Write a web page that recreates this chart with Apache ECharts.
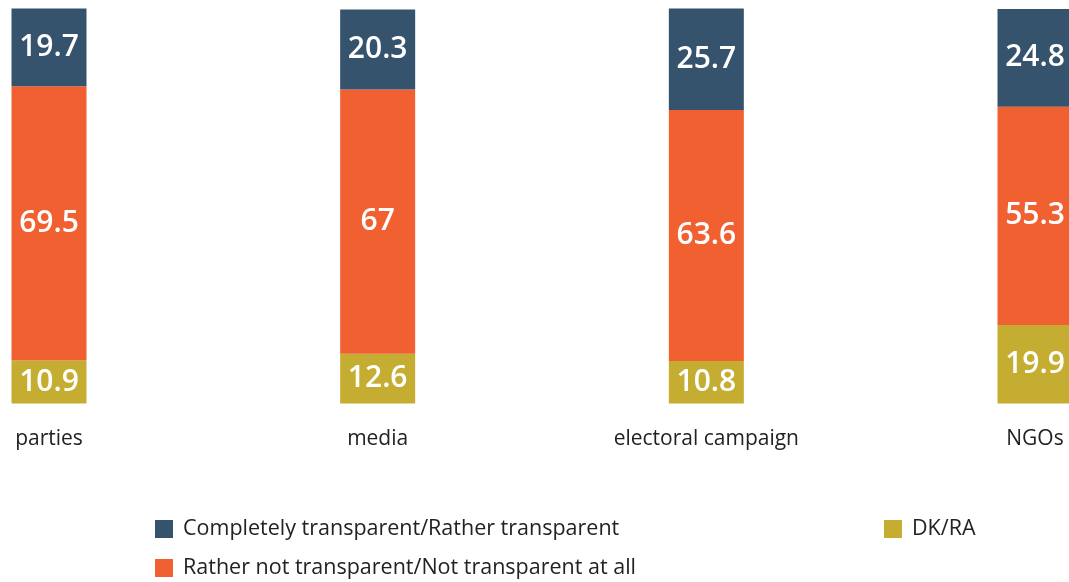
<!DOCTYPE html>
<html>
<head>
<meta charset="utf-8">
<script src="https://cdn.jsdelivr.net/npm/echarts@6/dist/echarts.min.js"></script>
<style>
  html, body { margin: 0; padding: 0; background: #ffffff; }
  #chart { width: 1069px; height: 582px; }
</style>
</head>
<body>
<div id="chart"></div>
<script>
// Perceived transparency, % of respondents
const categories = ['parties', 'media', 'electoral campaign', 'NGOs'];
const transparent = [19.7, 20.3, 25.7, 24.8];
const notTransparent = [69.5, 67, 63.6, 55.3];
const dkRa = [10.9, 12.6, 10.8, 19.9];

const NAME_T = 'Completely transparent/Rather transparent';
const NAME_N = 'Rather not transparent/Not transparent at all';
const NAME_D = 'DK/RA';

const COLOR_T = '#35536D';
const COLOR_N = '#F16030';
const COLOR_D = '#C5AD32';

const FONT = "'Open Sans', 'Noto Sans', sans-serif";

const barLabel = {
  show: true,
  position: 'inside',
  color: '#ffffff',
  fontSize: 30,
  fontWeight: 600,
  fontFamily: FONT
};

function stackSeries(name, data, color) {
  return {
    name: name,
    type: 'bar',
    stack: 'total',
    data: data,
    barWidth: 75,
    clip: false,
    itemStyle: { color: color },
    label: barLabel,
    emphasis: { disabled: true }
  };
}

function legendAt(name, left, top) {
  return {
    data: [name],
    left: left,
    top: top,
    orient: 'horizontal',
    itemWidth: 18,
    itemHeight: 18,
    itemGap: 10,
    icon: 'rect',
    selectedMode: false,
    textStyle: { fontSize: 21.5, color: '#222222', fontFamily: FONT, padding: [0, 0, 0, 5] }
  };
}

const chart = echarts.init(document.getElementById('chart'), null, { renderer: 'canvas' });
chart.setOption({
  animation: false,
  backgroundColor: '#ffffff',
  grid: { left: 49, right: 34, top: 9, bottom: 178.5, containLabel: false },
  legend: [
    legendAt(NAME_T, 150, 513),
    legendAt(NAME_N, 150, 552),
    legendAt(NAME_D, 879, 513)
  ],
  xAxis: {
    type: 'category',
    data: categories,
    boundaryGap: false,
    axisLine: { show: false },
    axisTick: { show: false },
    axisLabel: {
      interval: 0,
      margin: 25,
      fontSize: 21,
      color: '#222222',
      fontFamily: FONT
    }
  },
  yAxis: {
    type: 'value',
    min: 0,
    max: 100,
    show: false,
    splitLine: { show: false }
  },
  series: [
    stackSeries(NAME_D, dkRa, COLOR_D),
    stackSeries(NAME_N, notTransparent, COLOR_N),
    stackSeries(NAME_T, transparent, COLOR_T)
  ]
});
</script>
</body>
</html>
